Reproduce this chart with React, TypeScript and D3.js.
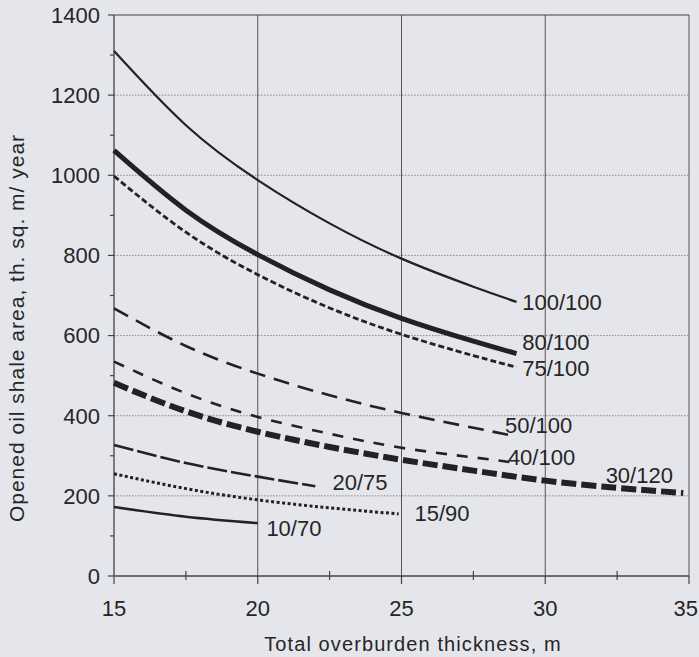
import React from "react";
import * as d3 from "d3";

const W = 699;
const H = 657;

const xTicks = [15, 20, 25, 30, 35];
const xMinorTicks = [17.5, 22.5, 27.5, 32.5];
const yTicks = [0, 200, 400, 600, 800, 1000, 1200, 1400];
const yMinorTicks = [100, 300, 500, 700, 900, 1100, 1300];

const xLabel = "Total overburden thickness, m";
const yLabel = "Opened oil shale area, th. sq. m/ year";

// series: thickness (m) -> area
const s100_100_x = [15, 17.5, 20, 22.5, 25, 27.5, 29];
const s100_100_y = [1310, 1125, 988, 880, 792, 722, 684];
const s80_100_x = [15, 17.5, 20, 22.5, 25, 27.5, 29];
const s80_100_y = [1062, 913, 802, 714, 643, 586, 555];
const s75_100_x = [15, 17.5, 20, 22.5, 25, 27.5, 29];
const s75_100_y = [998, 858, 752, 669, 603, 550, 521];
const s50_100_x = [15, 17.5, 20, 22.5, 25, 27.5, 29];
const s50_100_y = [668, 574, 505, 451, 407, 370, 348];
const s40_100_x = [15, 17.5, 20, 22.5, 25, 27.5, 28.8];
const s40_100_y = [535, 456, 397, 355, 320, 296, 284];
const s30_120_x = [15, 17.5, 20, 22.5, 25, 27.5, 30, 32.5, 34.8];
const s30_120_y = [482, 411, 360, 322, 290, 263, 238, 220, 207];
const s20_75_x = [15, 17.5, 20, 22];
const s20_75_y = [327, 282, 248, 224];
const s15_90_x = [15, 17.5, 20, 22.5, 24.9];
const s15_90_y = [255, 218, 190, 170, 155];
const s10_70_x = [15, 17.5, 20];
const s10_70_y = [172, 148, 132];

const seriesNames = ["100/100", "80/100", "75/100", "50/100", "40/100", "30/120", "20/75", "15/90", "10/70"];
const seriesX = [s100_100_x, s80_100_x, s75_100_x, s50_100_x, s40_100_x, s30_120_x, s20_75_x, s15_90_x, s10_70_x];
const seriesY = [s100_100_y, s80_100_y, s75_100_y, s50_100_y, s40_100_y, s30_120_y, s20_75_y, s15_90_y, s10_70_y];

const styles = [
  { w: 2.2, dash: "" },
  { w: 5, dash: "" },
  { w: 2.8, dash: "6 3" },
  { w: 2.6, dash: "16 9" },
  { w: 2.6, dash: "11 10" },
  { w: 6, dash: "15 5" },
  { w: 2.6, dash: "20 4" },
  { w: 3, dash: "3 2.5" },
  { w: 2.5, dash: "" },
];

// label anchor positions in data space (x, y)
const labelPos = [
  [29.2, 683],
  [29.2, 585],
  [29.2, 520],
  [28.6, 377],
  [28.7, 297],
  [32.1, 252],
  [22.6, 235],
  [25.45, 157],
  [20.3, 120],
];

const LINE = "#222";
const TEXT = "#262626";
const BG = "#e5e5ec";
const FONT = "'Liberation Sans', Arial, Helvetica, sans-serif";

export default function App() {
  const left = 114, right = 689, top = 15, bottom = 576;
  const x = d3.scaleLinear().domain([15, 35]).range([left, right]);
  const y = d3.scaleLinear().domain([0, 1400]).range([bottom, top]);
  const line = d3
    .line<[number, number]>()
    .x((d) => x(d[0]))
    .y((d) => y(d[1]))
    .curve(d3.curveNatural);

  return (
    <svg
      width={W}
      height={H}
      style={{ position: "fixed", left: 0, top: 0, background: BG }}
      fontFamily={FONT}
    >
      <rect x={0} y={0} width={W} height={H} fill={BG} />
      {/* horizontal dotted grid */}
      {yTicks.slice(1, -1).map((t) => (
        <line key={"hg" + t} x1={left} x2={right} y1={y(t)} y2={y(t)} stroke="#888" strokeWidth={1} strokeDasharray="1.5 1.5" />
      ))}
      {/* vertical grid */}
      {xTicks.slice(1).map((t) => (
        <line key={"vg" + t} x1={x(t)} x2={x(t)} y1={top} y2={bottom} stroke="#555" strokeWidth={1} />
      ))}
      {/* top border */}
      <line x1={left} x2={right} y1={top} y2={top} stroke="#444" strokeWidth={1.2} />
      {/* axes */}
      <line x1={left} x2={left} y1={top} y2={bottom} stroke="#444" strokeWidth={1.3} />
      <line x1={left} x2={right} y1={bottom} y2={bottom} stroke="#444" strokeWidth={1.3} />
      {yTicks.map((t) => (
        <g key={"yt" + t}>
          <line x1={left - 6} x2={left} y1={y(t)} y2={y(t)} stroke="#444" strokeWidth={1.2} />
          <text x={100} y={y(t)} dy="0.36em" textAnchor="end" fontSize={22} fill={TEXT}>
            {t}
          </text>
        </g>
      ))}
      {yMinorTicks.map((t) => (
        <line key={"ym" + t} x1={left - 4} x2={left} y1={y(t)} y2={y(t)} stroke="#444" strokeWidth={1.2} />
      ))}
      {xTicks.map((t, i) => (
        <g key={"xt" + t}>
          <line x1={x(t)} x2={x(t)} y1={bottom} y2={bottom + 8} stroke="#444" strokeWidth={1.2} />
          <text
            x={i === xTicks.length - 1 ? W - 1 : x(t)}
            y={616}
            textAnchor={i === xTicks.length - 1 ? "end" : "middle"}
            fontSize={22}
            fill={TEXT}
          >
            {t}
          </text>
        </g>
      ))}
      {xMinorTicks.map((t) => (
        <line key={"xm" + t} x1={x(t)} x2={x(t)} y1={bottom - 5} y2={bottom + 4} stroke="#444" strokeWidth={1.2} />
      ))}
      {/* series */}
      {seriesNames.map((n, i) => {
        const pts = seriesX[i].map((v, j) => [v, seriesY[i][j]] as [number, number]);
        return (
          <path
            key={n}
            d={line(pts) || ""}
            fill="none"
            stroke={LINE}
            strokeWidth={styles[i].w}
            strokeDasharray={styles[i].dash || undefined}
          />
        );
      })}
      {seriesNames.map((n, i) => (
        <text key={"l" + n} x={x(labelPos[i][0])} y={y(labelPos[i][1])} dy="0.36em" fontSize={22} fill={TEXT}>
          {n}
        </text>
      ))}
      {/* axis titles */}
      <text x={413} y={651} textAnchor="middle" fontSize={20} letterSpacing={1.1} fill={TEXT}>
        {xLabel}
      </text>
      <text
        transform={`translate(24,328) rotate(-90)`}
        textAnchor="middle"
        fontSize={21}
        letterSpacing={1}
        fill={TEXT}
      >
        {yLabel}
      </text>
    </svg>
  );
}
